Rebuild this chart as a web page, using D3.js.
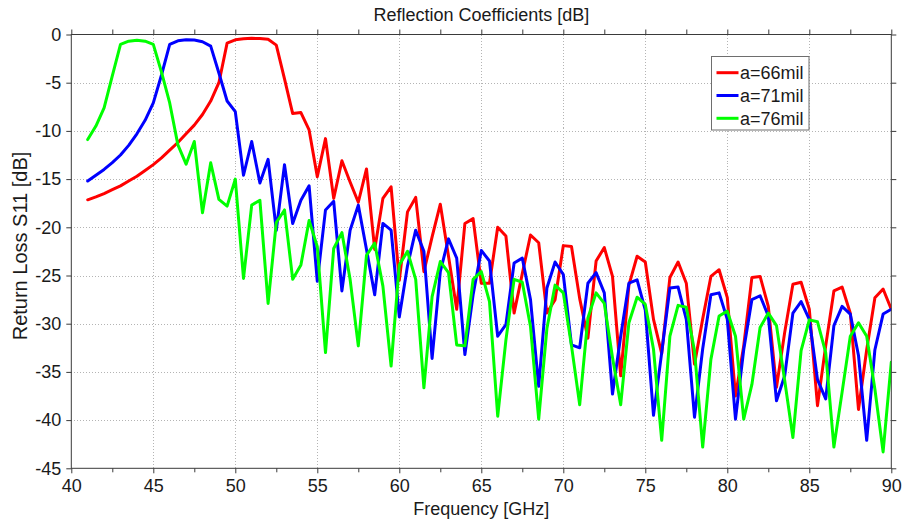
<!DOCTYPE html>
<html>
<head>
<meta charset="utf-8">
<script src="https://cdn.jsdelivr.net/npm/d3@7"></script>
<style>
  html, body { margin: 0; padding: 0; background: #ffffff; }
  svg { display: block; font-family: "Liberation Sans", Arial, Helvetica, sans-serif; }
</style>
</head>
<body>
<svg id="chart" width="903" height="525"></svg>
<script>
// Frequency sweep (GHz): 41 to 90 in 0.5 GHz steps
const freqGHz = d3.range(41, 90.25, 0.5);

// Return loss S11 [dB] for the three waveguide widths
const s11_a66 = [
  -17.15, -16.85, -16.5, -16.1, -15.7, -15.2, -14.7, -14.1, -13.5, -12.8,
  -12.0, -11.2, -10.3, -9.4, -8.3, -6.9, -5.0, -0.9,
  -0.55, -0.45, -0.4, -0.42, -0.5, -1.1, -4.6, -8.2, -8.1, -9.9,
  -14.75, -10.8, -17.0, -13.1, -15.3, -17.4, -13.95, -22.3, -17.0, -15.8,
  -25.5, -18.4, -16.9, -24.6, -21.0, -17.6, -23.0, -28.5, -19.6, -19.1,
  -25.8, -25.8, -20.0, -20.9, -28.9, -24.8, -20.8, -21.6, -28.9, -27.5,
  -21.9, -22.0, -27.4, -31.5, -23.5, -22.1, -25.1, -35.4, -26.0, -23.0,
  -23.6, -29.55, -33.1, -25.2, -23.6, -25.8, -34.2, -29.5, -25.1, -24.4,
  -27.3, -37.5, -32.3, -25.2, -25.1, -28.2, -36.6, -30.9, -25.9, -25.7,
  -28.5, -38.5, -32.3, -26.6, -26.2, -28.9, -38.9, -32.7, -27.3, -26.4,
  -28.5
];
const s11_a71 = [
  -15.2, -14.6, -14.0, -13.3, -12.5, -11.5, -10.3, -8.9, -7.1, -4.2,
  -1.03, -0.65, -0.55, -0.58, -0.75, -1.2, -4.0, -6.9,
  -8.0, -14.6, -11.1, -15.4, -12.95, -20.3, -13.5, -19.6, -17.2, -15.7,
  -25.6, -18.2, -17.3, -26.6, -20.3, -17.7, -22.3, -27.0, -19.6, -20.3,
  -29.3, -24.0, -20.3, -22.5, -33.6, -24.6, -21.2, -23.2, -33.2, -27.0,
  -22.4, -23.5, -31.3, -30.1, -23.7, -23.2, -27.5, -36.5, -26.3, -23.6,
  -24.9, -32.2, -32.5, -25.8, -24.7, -26.8, -37.3, -31.3, -25.8, -25.45,
  -28.6, -39.5, -33.0, -26.3, -26.2, -29.55, -39.7, -32.6, -27.0, -26.8,
  -29.55, -39.9, -32.7, -27.5, -27.1, -29.2, -38.0, -35.4, -28.9, -27.7,
  -29.55, -35.8, -37.8, -30.2, -28.2, -29.0, -33.3, -42.1, -32.7, -29.0,
  -28.5
];
const s11_a76 = [
  -10.9, -9.5, -7.6, -4.3, -1.03, -0.69, -0.6, -0.69, -1.03, -3.9,
  -7.1, -11.45, -13.45, -11.1, -18.5, -13.3, -17.1, -17.8,
  -15.0, -25.3, -17.7, -17.2, -27.9, -19.5, -18.2, -25.4, -23.9, -19.3,
  -22.0, -33.0, -22.2, -20.55, -25.4, -32.3, -22.9, -21.65, -26.1, -34.4,
  -23.9, -22.5, -25.4, -36.65, -27.2, -23.55, -24.7, -32.2, -32.3, -25.4,
  -24.6, -27.7, -39.6, -31.7, -25.4, -25.7, -30.3, -39.9, -30.5, -26.0,
  -26.8, -32.3, -38.4, -29.4, -26.8, -27.9, -33.5, -38.4, -29.9, -27.25,
  -28.0, -32.65, -42.1, -31.3, -28.1, -28.3, -32.8, -42.8, -33.7, -29.2,
  -28.7, -31.3, -39.9, -36.3, -30.4, -28.9, -30.2, -35.9, -41.8, -32.8,
  -29.6, -29.8, -33.0, -42.8, -37.1, -31.3, -29.9, -31.3, -36.8, -43.3,
  -34.0
];

const seriesNames  = ["a=66mil", "a=71mil", "a=76mil"];
const seriesColors = ["#ff0000", "#0000ff", "#00ff00"];
const seriesValues = [s11_a66, s11_a71, s11_a76];

const xMajorTicks = [40, 45, 50, 55, 60, 65, 70, 75, 80, 85, 90];
const xMinorTicks = [42.5, 47.5, 52.5, 57.5, 62.5, 67.5, 72.5, 77.5, 82.5, 87.5];
const yTicks = [0, -5, -10, -15, -20, -25, -30, -35, -40, -45];

const titleText = "Reflection Coefficients [dB]";
const xLabelText = "Frequency [GHz]";
const yLabelText = "Return Loss S11 [dB]";

// ---- layout ----
const plot = { left: 71.3, right: 891.3, top: 34.5, bottom: 468.3 };
const svg = d3.select("#chart");
const textColor = "#1a1a1a";
const axisColor = "#3a3a3a";
const plainNumber = d => String(d);   // ASCII hyphen for negatives

const x = d3.scaleLinear().domain([40, 90]).range([plot.left, plot.right]);
const y = d3.scaleLinear().domain([-45, 0]).range([plot.bottom, plot.top]);

// plot background
svg.append("rect")
  .attr("x", plot.left).attr("y", plot.top)
  .attr("width", plot.right - plot.left).attr("height", plot.bottom - plot.top)
  .attr("fill", "#ffffff");

// dotted grid
const grid = svg.append("g").attr("stroke", "#b4b4b4").attr("stroke-width", 1)
  .attr("stroke-dasharray", "1,2").attr("shape-rendering", "crispEdges");
grid.selectAll("line.gx").data(xMajorTicks.slice(1, -1)).join("line")
  .attr("x1", d => Math.round(x(d)) + 0.5).attr("x2", d => Math.round(x(d)) + 0.5)
  .attr("y1", plot.top).attr("y2", plot.bottom);
grid.selectAll("line.gy").data(yTicks.slice(1, -1)).join("line")
  .attr("class", "gy")
  .attr("y1", d => Math.round(y(d)) + 0.5).attr("y2", d => Math.round(y(d)) + 0.5)
  .attr("x1", plot.left).attr("x2", plot.right);

// axes (ticks pointing outward, labels on bottom and left)
function styleAxis(g) {
  g.select(".domain").remove();
  g.selectAll(".tick line").attr("stroke", axisColor);
  g.selectAll(".tick text").attr("fill", textColor).attr("font-size", 18)
    .attr("font-family", "'Liberation Sans', Arial, sans-serif");
}
const xBottom = d3.axisBottom(x).tickValues(xMajorTicks).tickSize(5).tickPadding(6).tickFormat(plainNumber);
svg.append("g").attr("transform", `translate(0,${plot.bottom})`).call(xBottom).call(styleAxis);
svg.append("g").attr("transform", `translate(0,${plot.bottom})`)
  .call(d3.axisBottom(x).tickValues(xMinorTicks).tickSize(4).tickFormat("")).call(styleAxis);
svg.append("g").attr("transform", `translate(0,${plot.top})`)
  .call(d3.axisTop(x).tickValues(xMajorTicks.concat(xMinorTicks)).tickSize(5).tickFormat("")).call(styleAxis);

const yLeft = d3.axisLeft(y).tickValues(yTicks).tickSize(5).tickPadding(5).tickFormat(plainNumber);
svg.append("g").attr("transform", `translate(${plot.left},0)`).call(yLeft).call(styleAxis);
svg.append("g").attr("transform", `translate(${plot.right},0)`)
  .call(d3.axisRight(y).tickValues(yTicks).tickSize(5).tickFormat("")).call(styleAxis);

// data lines
const line = d3.line().x((d, i) => x(freqGHz[i])).y(d => y(d));
svg.append("clipPath").attr("id", "plotClip").append("rect")
  .attr("x", plot.left).attr("y", plot.top - 2)
  .attr("width", plot.right - plot.left).attr("height", plot.bottom - plot.top + 2);
const lines = svg.append("g").attr("clip-path", "url(#plotClip)");
seriesValues.forEach((vals, k) => {
  lines.append("path")
    .datum(vals)
    .attr("d", line)
    .attr("fill", "none")
    .attr("stroke", seriesColors[k])
    .attr("stroke-width", 3)
    .attr("stroke-linejoin", "round")
    .attr("stroke-linecap", "round");
});

// plot frame
svg.append("rect")
  .attr("x", plot.left).attr("y", plot.top)
  .attr("width", plot.right - plot.left).attr("height", plot.bottom - plot.top)
  .attr("fill", "none").attr("stroke", axisColor).attr("stroke-width", 1);

// legend
const leg = { x: 711.5, y: 56.5, w: 97.5, h: 73.5 };
const legend = svg.append("g");
legend.append("rect")
  .attr("x", leg.x).attr("y", leg.y).attr("width", leg.w).attr("height", leg.h)
  .attr("fill", "#ffffff").attr("stroke", "#6e6e6e").attr("stroke-width", 1);
seriesNames.forEach((name, k) => {
  const cy = leg.y + 16.2 + k * 22.8;
  legend.append("line")
    .attr("x1", leg.x + 5).attr("x2", leg.x + 27)
    .attr("y1", cy).attr("y2", cy)
    .attr("stroke", seriesColors[k]).attr("stroke-width", 3);
  legend.append("text")
    .attr("x", leg.x + 28.5).attr("y", cy + 6.3)
    .attr("font-size", 18).attr("fill", textColor)
    .text(name);
});

// title and axis labels
svg.append("text")
  .attr("x", (plot.left + plot.right) / 2).attr("y", 21)
  .attr("text-anchor", "middle").attr("font-size", 18).attr("fill", textColor)
  .text(titleText);
svg.append("text")
  .attr("x", (plot.left + plot.right) / 2).attr("y", 515)
  .attr("text-anchor", "middle").attr("font-size", 18).attr("fill", textColor)
  .text(xLabelText);
svg.append("text")
  .attr("transform", `translate(27,246) rotate(-90)`)
  .attr("text-anchor", "middle").attr("font-size", 20).attr("fill", textColor)
  .text(yLabelText);
</script>
</body>
</html>
